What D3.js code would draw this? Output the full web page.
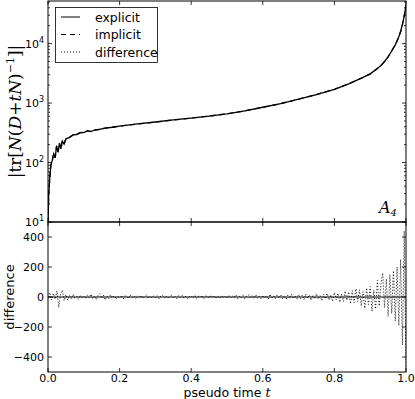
<!DOCTYPE html>
<html>
<head>
<meta charset="utf-8">
<script src="https://cdn.jsdelivr.net/npm/d3@7"></script>
<style>
  body { margin: 0; background: #fff; }
  svg { display: block; }
  .tick-label { font-family: "DejaVu Sans", sans-serif; font-size: 11px; fill: #000; }
</style>
</head>
<body>
<div id="chart"></div>
<script>
// pseudo time samples for the trace curve
const explicitT = [0, 0.002, 0.005, 0.008, 0.012, 0.016, 0.02, 0.024, 0.028, 0.032, 0.036, 0.04,
  0.045, 0.05, 0.06, 0.07, 0.08, 0.09, 0.1, 0.11, 0.12, 0.13, 0.14, 0.16, 0.18, 0.2, 0.25, 0.3, 0.35, 0.4,
  0.45, 0.5, 0.55, 0.6, 0.65, 0.7, 0.75, 0.8, 0.84, 0.88, 0.9, 0.92, 0.93, 0.94, 0.95, 0.96,
  0.97, 0.98, 0.985, 0.99, 0.994, 0.997, 1.0];
const explicitVals = [10, 30, 55, 90, 110, 140, 120, 190, 150, 210, 170, 230,
  205, 250, 265, 292, 296, 318, 320, 340, 332, 352, 358, 380, 392, 410, 445, 480, 520, 560,
  605, 660, 740, 850, 980, 1160, 1390, 1700, 2100, 2700, 3100, 3800, 4270, 5000, 6000, 7500,
  9500, 13000, 16000, 21000, 27000, 34000, 45000];

// difference series, sampled every 0.005 in t
const diffT = d3.range(201).map(i => i * 0.005);
const diffVals = [
  0, 30, -20, 25, -15, 40, -70, 20, 45, -25,
  15, -20, 10, -12, 18, -8, 5, -15, 12, -6,
  8, -10, 14, -5, 20, -12, 6, -18, 10, 22,
  -8, 12, -20, 6, -10, 15, -4, 9, -14, 5,
  -6, 10, -12, 8, 4, -9, 13, -5, 7, -11,
  6, -4, 10, -8, 3, 12, -10, 5, -7, 9,
  -5, 8, -12, 6, 10, -4, 7, -9, 4, 11,
  -6, 5, -10, 9, -3, 14, -8, 6, -11, 4,
  7, -5, 12, -9, 6, -4, 10, -12, 5, 8,
  -7, 13, -4, 9, -10, 6, -8, 11, -5, 7,
  -9, 12, -6, 8, -4, 15, -11, 5, -7, 10,
  -12, 7, 14, -6, 9, -10, 16, -8, 6, -13,
  11, -7, 9, -14, 18, -6, 8, -10, 13, -9,
  15, -12, 7, -16, 12, -8, 19, -11, 9, -14,
  16, -10, 12, -18, 20, -9, 14, -22, 11, -13,
  22, -15, 10, -25, 18, -12, 24, -20, 15, -28,
  30, -18, 25, -35, 20, -30, 40, -22, 35, -45,
  42, -38, 55, -30, 48, -60, 35, -75, 60, -50,
  70, -95, 45, -80, 110, -60, 85, 160, -70, 120,
  -130, 150, -110, 175, -160, 200, -190, 250, -320, 440,
  -470];

const xTicks = [0, 0.2, 0.4, 0.6, 0.8, 1.0];
const logMajor = [10, 100, 1000, 10000];
const diffTicks = [-400, -200, 0, 200, 400];
const legendItems = ["explicit", "implicit", "difference"];

const width = 415, height = 399;
const left = 48, right = 406;
const topY0 = 1, topY1 = 222, botY1 = 372;

const svg = d3.select("#chart").append("svg")
  .attr("width", width).attr("height", height);

const x = d3.scaleLinear().domain([0, 1]).range([left, right]);
const yLog = d3.scaleLog().domain([10, 52000]).range([topY1, topY0]);
const yDiff = d3.scaleLinear().domain([-500, 500]).range([botY1, topY1]);

const dashes = { explicit: null, implicit: "5,4", difference: "1,2" };

// clip paths
function clip(id, y0, y1) {
  svg.append("clipPath").attr("id", id).append("rect")
    .attr("x", left).attr("y", y0).attr("width", right - left).attr("height", y1 - y0);
}
clip("clipTop", topY0, topY1);
clip("clipBot", topY1, botY1);

// top panel lines
const lineTop = d3.line().x((d, i) => x(explicitT[i])).y(d => yLog(d));
const gTop = svg.append("g").attr("clip-path", "url(#clipTop)");
gTop.append("path").datum(explicitVals).attr("d", lineTop)
  .attr("fill", "none").attr("stroke", "#000").attr("stroke-width", 1.3);
gTop.append("path").datum(explicitVals).attr("d", lineTop)
  .attr("fill", "none").attr("stroke", "#000").attr("stroke-width", 1.3)
  .attr("stroke-dasharray", dashes.implicit);

// bottom panel
const gBot = svg.append("g").attr("clip-path", "url(#clipBot)");
gBot.append("path").datum(diffVals)
  .attr("d", d3.line().x((d, i) => x(diffT[i])).y(d => yDiff(d)))
  .attr("fill", "none").attr("stroke", "#000").attr("stroke-width", 1)
  .attr("stroke-dasharray", dashes.difference);
gBot.append("path").datum(xTicks)
  .attr("d", d3.line().x(d => x(d)).y(() => yDiff(0)))
  .attr("fill", "none").attr("stroke", "#000").attr("stroke-width", 1);

// frames
[[topY0, topY1], [topY1, botY1]].forEach(([a, b]) => {
  svg.append("rect").attr("x", left).attr("y", a).attr("width", right - left).attr("height", b - a)
    .attr("fill", "none").attr("stroke", "#000").attr("stroke-width", 1);
});

function tick(x1, y1, x2, y2) {
  svg.append("line").attr("x1", x1).attr("y1", y1).attr("x2", x2).attr("y2", y2)
    .attr("stroke", "#000").attr("stroke-width", 0.8);
}

// x ticks on both panels, top and bottom, pointing inward
xTicks.forEach(t => {
  const px = x(t);
  tick(px, topY0, px, topY0 + 4);
  tick(px, topY1, px, topY1 - 4);
  tick(px, topY1, px, topY1 + 4);
  tick(px, botY1, px, botY1 - 4);
  svg.append("text").attr("class", "tick-label")
    .attr("x", px).attr("y", botY1 + 10).attr("text-anchor", "middle")
    .text(t.toFixed(1));
});

// log ticks
logMajor.forEach((v, i) => {
  const py = yLog(v);
  tick(left, py, left + 4, py);
  tick(right, py, right - 4, py);
  const lab = svg.append("text").attr("class", "tick-label")
    .attr("x", left - 4).attr("y", py + 4).attr("text-anchor", "end");
  lab.append("tspan").text("10");
  lab.append("tspan").attr("dy", -5).attr("font-size", "8px").text(i + 1);
});
const minor = [];
for (let e = 1; e <= 4; e++) for (let k = 2; k <= 9; k++) minor.push(k * Math.pow(10, e));
minor.filter(v => v < yLog.domain()[1]).forEach(v => {
  const py = yLog(v);
  tick(left, py, left + 2, py);
  tick(right, py, right - 2, py);
});

// diff ticks
diffTicks.forEach(v => {
  const py = yDiff(v);
  tick(left, py, left + 4, py);
  tick(right, py, right - 4, py);
  svg.append("text").attr("class", "tick-label")
    .attr("x", left - 4).attr("y", py + 4).attr("text-anchor", "end")
    .text(v < 0 ? "\u2212" + Math.abs(v) : v);
});

// legend
const lg = svg.append("g");
lg.append("rect").attr("x", 55.5).attr("y", 7.5).attr("width", 102).attr("height", 55)
  .attr("fill", "#fff").attr("stroke", "#000").attr("stroke-width", 0.8);
legendItems.forEach((name, i) => {
  const cy = 17 + i * 17.5;
  lg.append("line").attr("x1", 61).attr("x2", 80).attr("y1", cy).attr("y2", cy)
    .attr("stroke", "#000").attr("stroke-width", 1)
    .attr("stroke-dasharray", dashes[name]);
  lg.append("text").attr("x", 95).attr("y", cy + 4.5)
    .attr("font-family", "DejaVu Sans, sans-serif").attr("font-size", "12.5px")
    .text(name);
});

// A_4 annotation
const a4 = svg.append("text").attr("x", 379).attr("y", 213)
  .attr("font-family", "DejaVu Serif, serif").attr("font-style", "italic").attr("font-size", "16px");
a4.append("tspan").text("A");
a4.append("tspan").attr("dy", 3).attr("font-size", "10px").text("4");

// y labels
const yl = svg.append("text")
  .attr("transform", `translate(21, ${(topY0 + topY1) / 2}) rotate(-90)`)
  .attr("text-anchor", "middle")
  .attr("font-family", "DejaVu Serif, serif").attr("font-size", "17px");
yl.append("tspan").text("|tr[");
yl.append("tspan").attr("font-style", "italic").text("N");
yl.append("tspan").text("(");
yl.append("tspan").attr("font-style", "italic").text("D");
yl.append("tspan").text("+");
yl.append("tspan").attr("font-style", "italic").text("tN");
yl.append("tspan").text(")");
yl.append("tspan").attr("dy", -7).attr("font-size", "11px").text("\u22121");
yl.append("tspan").attr("dy", 7).text("]|");

svg.append("text")
  .attr("transform", `translate(14, ${(topY1 + botY1) / 2}) rotate(-90)`)
  .attr("text-anchor", "middle")
  .attr("font-family", "DejaVu Sans, sans-serif").attr("font-size", "13px")
  .text("difference");

const xl = svg.append("text").attr("x", (left + right) / 2).attr("y", 397)
  .attr("text-anchor", "middle")
  .attr("font-family", "DejaVu Sans, sans-serif").attr("font-size", "12.5px");
xl.append("tspan").text("pseudo time ");
xl.append("tspan").attr("font-family", "DejaVu Serif, serif").attr("font-style", "italic").text("t");
</script>
</body>
</html>
